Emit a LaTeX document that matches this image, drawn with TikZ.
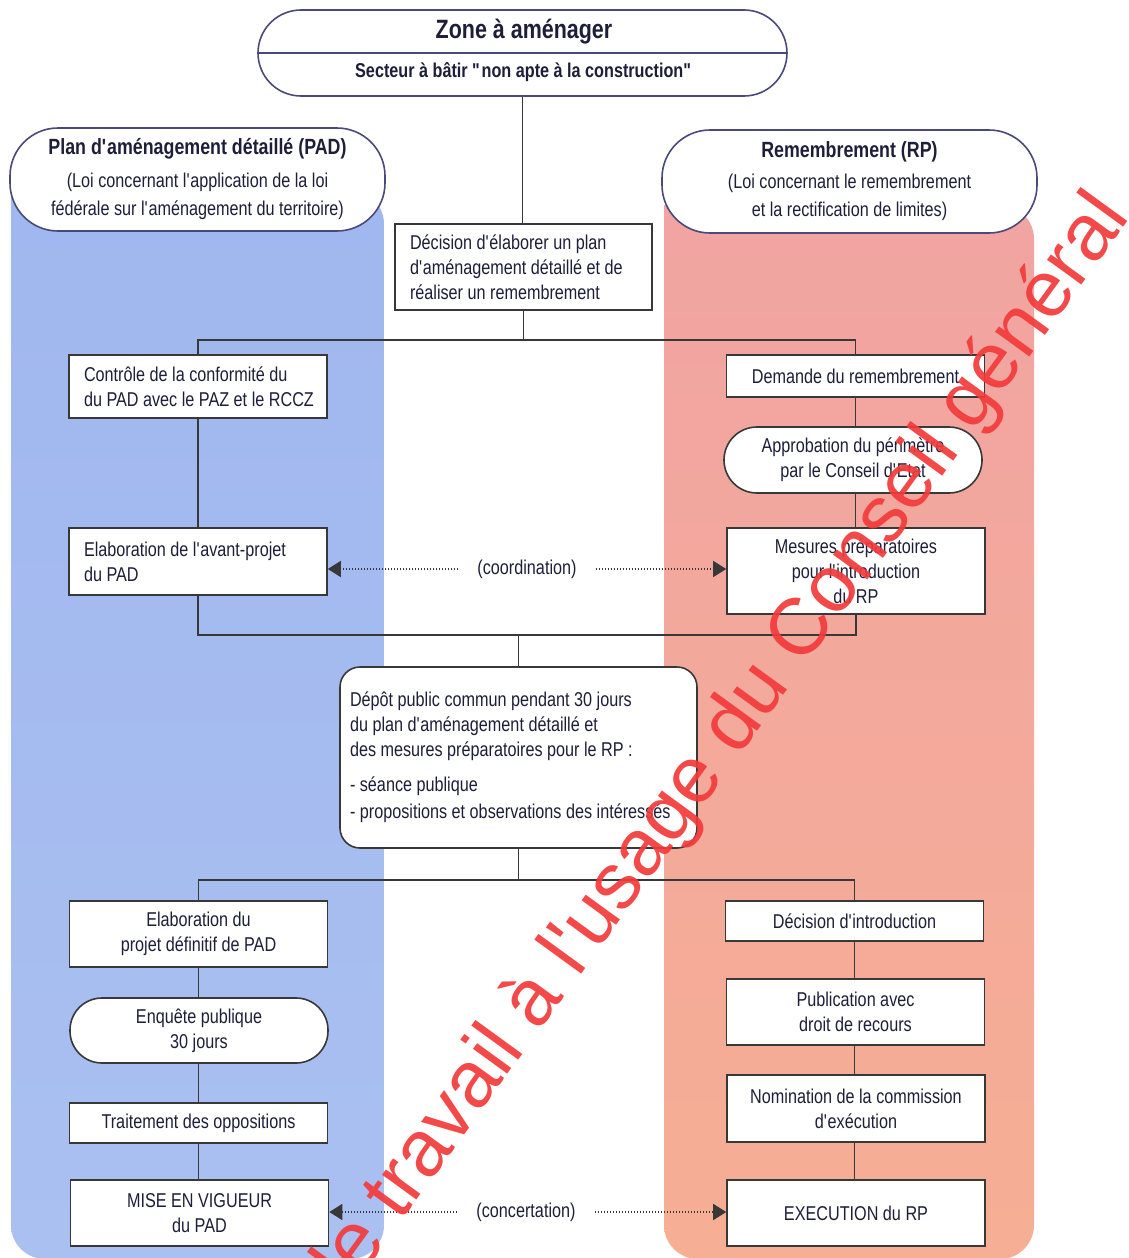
\documentclass[tikz,border=0pt]{standalone}
\usepackage{fontspec}
\setmainfont{Liberation Sans}[FakeStretch=0.81]
\newfontfamily\wmfont{Liberation Sans}
\usetikzlibrary{arrows.meta}
\newcommand{\myap}{\textquotesingle}
\newcommand{\mydq}{\textquotedbl}
\newcommand{\lin}[2]{\hspace*{#1}\mbox{#2}}
\definecolor{txt}{HTML}{1E1E3A}
\definecolor{boxline}{HTML}{383838}
\definecolor{hdrline}{HTML}{4A4A7A}
\definecolor{bandblueA}{HTML}{A0B7EF}
\definecolor{bandblueB}{HTML}{AAC0F1}
\definecolor{bandredA}{HTML}{F1A4A2}
\definecolor{bandredB}{HTML}{F6AE94}
\definecolor{wmred}{HTML}{F23A3A}
\begin{document}
\begin{tikzpicture}[x=1pt,y=-1pt,
  font=\fontsize{20}{25}\selectfont,
  every node/.style={text=txt},
  box/.style={draw=boxline, line width=1.6pt, fill=white, inner sep=0pt, align=center, minimum width=258pt},
  leftbox/.style={draw=boxline, line width=1.6pt, fill=white, inner sep=0pt, align=flush left},
  stadium/.style={box, rounded corners=32pt},
  header/.style={draw=hdrline, line width=1.6pt, fill=white, inner sep=0pt, align=center, rounded corners=48pt, minimum width=375pt, minimum height=103pt},
  conn/.style={draw=boxline, line width=1.5pt},
  dotarrow/.style={draw=boxline, line width=1.6pt, dash pattern=on 1.4pt off 1.6pt, -{Triangle[length=13pt,width=16pt]}},
  lbl/.style={inner xsep=19pt, inner ysep=2pt},
  wm/.style={text=wmred, opacity=0.92, font=\wmfont\fontsize{80}{80}\selectfont, inner sep=0pt}
]
\useasboundingbox (0,0) rectangle (1128,1258);
\clip (0,0) rectangle (1128,1258);
\fill[white] (0,0) rectangle (1128,1258);

% background bands
\shade[top color=bandblueA, bottom color=bandblueB, rounded corners=34pt]
  (11,190) -- (11,1259) -- (384,1259) -- (384,190) [sharp corners] -- cycle;
\shade[top color=bandredA, bottom color=bandredB, rounded corners=34pt]
  (664,205) -- (664,1259) -- (1034,1259) -- (1034,205) [sharp corners] -- cycle;

% top header
\node[header, minimum width=529pt, minimum height=86pt, rounded corners=43pt] (zone) at (522.5,53) {};
\draw[draw=hdrline, line width=1.6pt] (zone.west) -- (zone.east);
\node[font=\bfseries\fontsize{26.5}{28}\selectfont] (zonet) at (524,32) {Zone à aménager};
\node[font=\bfseries\fontsize{20}{24}\selectfont] (sect) at (524,72) {Secteur à bâtir \mydq non apte à la construction\mydq};

% column headers
\node[header] (pad) at (197.5,179.5) {{\bfseries\fontsize{22}{25}\selectfont Plan d\myap aménagement détaillé (PAD)}\\[8pt]
  (Loi concernant l\myap application de la loi\\[3pt] fédérale sur l\myap aménagement du territoire)};
\node[header] (rp) at (849.5,181.5) {{\bfseries\fontsize{22}{25}\selectfont Remembrement (RP)}\\[6pt]
  (Loi concernant le remembrement\\[3pt] et la rectification de limites)};

% decision
\node[leftbox, text width=257pt, minimum height=86pt] (dec) at (523.5,267)
  {\lin{15pt}{Décision d\myap élaborer un plan}\\ \lin{15pt}{d\myap aménagement détaillé et de}\\ \lin{15pt}{réaliser un remembrement}};

% left column
\node[leftbox, text width=258pt, minimum height=63pt] (ctrl) at (198,386.5)
  {\lin{15pt}{Contrôle de la conformité du}\\ \lin{15pt}{du PAD avec le PAZ et le RCCZ}};
\node[leftbox, text width=258pt, minimum height=67pt] (ela) at (198,561.5)
  {\lin{15pt}{Elaboration de l\myap avant-projet}\\ \lin{15pt}{du PAD}};

% right column upper
\node[box, minimum height=42pt] (dem) at (855.5,376) {Demande du remembrement};
\node[stadium, minimum height=66pt, rounded corners=33pt] (appr) at (853,460) {Approbation du périmètre\\ par le Conseil d\myap Etat};
\node[box, minimum height=86pt] (mes) at (856,571) {Mesures préparatoires\\ pour l\myap introduction\\ du RP};

% depot
\node[leftbox, rounded corners=20pt, text width=357pt, minimum height=181pt] (depot) at (518.5,757.5)
  {\lin{10pt}{Dépôt public commun pendant 30 jours}\\ \lin{10pt}{du plan d\myap aménagement détaillé et}\\ \lin{10pt}{des mesures préparatoires pour le RP :}\\[10pt]
   \lin{10pt}{- séance publique}\\[2pt] \lin{10pt}{- propositions et observations des intéressés}};

% left column lower
\node[box, minimum height=66pt] (proj) at (198.5,934) {Elaboration du\\ projet définitif de PAD};
\node[stadium, minimum height=65pt] (enq) at (199,1030.5) {Enquête publique\\ 30 jours};
\node[box, minimum height=40pt] (trait) at (198.5,1123) {Traitement des oppositions};
\node[box, minimum height=66pt] (mise) at (199.5,1213) {MISE EN VIGUEUR\\ du PAD};

% right column lower
\node[box, minimum height=40pt] (dint) at (854.5,921) {Décision d\myap introduction};
\node[box, minimum height=66pt] (pub) at (855.5,1012) {Publication avec\\ droit de recours};
\node[box, minimum height=67pt] (nom) at (856,1108.5) {Nomination de la commission\\ d\myap exécution};
\node[box, minimum height=66pt] (exec) at (856,1213) {EXECUTION du RP};

% bus coordinates
\coordinate (bus1) at (0,340);
\coordinate (bus2) at (0,635);
\coordinate (bus3) at (0,880);

% connectors
\draw[conn] (zone.south) -- (zone.south |- dec.north);
\draw[conn] (dec.south) -- (dec.south |- bus1);
\draw[conn] (ctrl.north) -- (ctrl.north |- bus1) -- (dem.north |- bus1) -- (dem.north);
\draw[conn] (ctrl.south) -- (ela.north);
\draw[conn] (dem.south) -- (dem.south |- appr.north);
\draw[conn] (appr.south -| dem.south) -- (dem.south |- mes.north);
\draw[conn] (ela.south) -- (ela.south |- bus2) -- (mes.south |- bus2) -- (mes.south);
\draw[conn] (depot.north |- bus2) -- (depot.north);
\draw[conn] (depot.south) -- (depot.south |- bus3);
\draw[conn] (proj.north) -- (proj.north |- bus3) -- (dint.north |- bus3) -- (dint.north);
\draw[conn] (proj.south) -- (enq.north -| proj.south);
\draw[conn] (enq.south -| proj.south) -- (trait.north -| proj.south);
\draw[conn] (trait.south -| proj.south) -- (mise.north -| proj.south);
\draw[conn] (dint.south) -- (pub.north -| dint.south);
\draw[conn] (pub.south -| dint.south) -- (nom.north -| dint.south);
\draw[conn] (nom.south -| dint.south) -- (exec.north -| dint.south);

% coordination / concertation
\node[lbl] (coord) at (527,569) {(coordination)};
\draw[dotarrow] (coord.west) -- (coord.west -| ela.east);
\draw[dotarrow] (coord.east) -- (coord.east -| mes.west);
\node[lbl] (conc) at (526,1212) {(concertation)};
\draw[dotarrow] (conc.west) -- (conc.west -| mise.east);
\draw[dotarrow] (conc.east) -- (conc.east -| exec.west);

% watermark
\node[wm, rotate=54, anchor=base east] (wmark) at (1131,217) {Document de travail à l\myap usage du Conseil général};
\end{tikzpicture}
\end{document}
